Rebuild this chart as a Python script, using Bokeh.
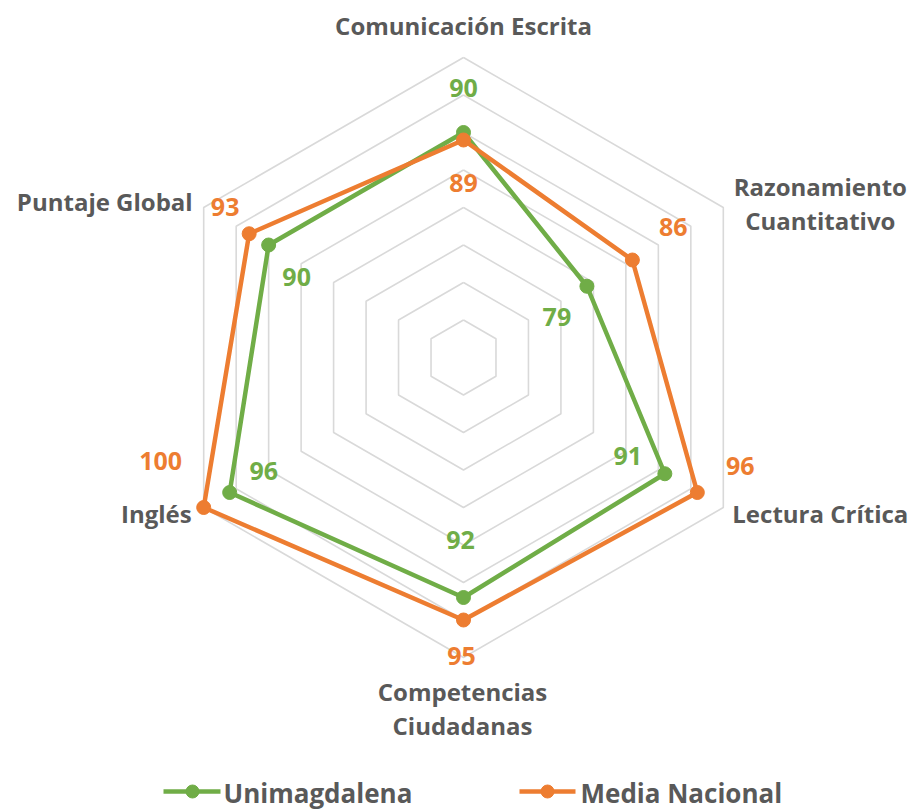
import numpy as np
from bokeh.plotting import figure
from bokeh.models import Range1d
from bokeh.core.properties import value
from bokeh.embed import file_html
from bokeh.resources import INLINE

# ---------------- data ----------------
categories = ["Comunicación Escrita", "Razonamiento\nCuantitativo", "Lectura Crítica",
              "Competencias\nCiudadanas", "Inglés", "Puntaje Global"]
unimagdalena = [90, 79, 91, 92, 96, 90]
media_nacional = [89, 86, 96, 95, 100, 93]
series_names = ["Unimagdalena", "Media Nacional"]
scale_min, scale_max, scale_step = 60, 100, 5

# ---------------- style ----------------
GREEN = "#70AD47"
ORANGE = "#ED7D31"
LABEL = "#595959"
GRID = "#D9D9D9"
FONT = value("Open Sans")
R = 300  # pixel radius of the outer ring

W, H = 915, 812
CX, CY = 463, 357  # center inside the frame (px from left / top)

p = figure(width=W, height=H, output_backend="svg", toolbar_location=None,
           x_range=Range1d(-CX, W - CX), y_range=Range1d(-(H - CY), CY),
           min_border=0, background_fill_color="white", border_fill_color="white")
p.axis.visible = False
p.grid.visible = False
p.outline_line_color = None

angles = np.deg2rad(90 - 60 * np.arange(len(categories)))


def polar(vals):
    r = (np.asarray(vals, float) - scale_min) / (scale_max - scale_min) * R
    return r * np.cos(angles), r * np.sin(angles)


# grid rings
for lvl in range(scale_min + scale_step, scale_max + 1, scale_step):
    gx, gy = polar([lvl] * len(categories))
    p.line(list(gx) + [gx[0]], list(gy) + [gy[0]], line_color=GRID, line_width=1.6)

# series
series = [(unimagdalena, GREEN), (media_nacional, ORANGE)]
for vals, col in series:
    sx, sy = polar(vals)
    p.line(list(sx) + [sx[0]], list(sy) + [sy[0]], line_color=col, line_width=4.5)
    p.scatter(sx, sy, size=14, fill_color=col, line_color=col)

# value labels (pixel offsets, screen dx, dy-down)
val_offsets = [
    [(0, -45), (-30, 31), (-37, -18), (-3, -58), (34, -22), (28, 32)],
    [(0, 43), (41, -33), (43, -27), (-2, 36), (-43, -47), (-24, -27)],
]
for (vals, col), offs in zip(series, val_offsets):
    sx, sy = polar(vals)
    tx = [x + o[0] for x, o in zip(sx, offs)]
    ty = [y - o[1] for y, o in zip(sy, offs)]
    p.text(tx, ty, text=[str(v) for v in vals], text_color=col, text_font=FONT,
           text_font_style="bold", text_font_size="25px",
           text_align="center", text_baseline="middle")

# category labels
ox, oy = polar([scale_max] * len(categories))
cat_offsets = [
    ((0, -32), "center"),
    ((97, -21), "center"),
    ((97, 6), "center"),
    ((-1, 34), "center"),
    ((-12, 6), "right"),
    ((-11, -6), "right"),
]
line_gap = 34
for i, cat in enumerate(categories):
    (dx, dy), align = cat_offsets[i]
    for j, ln in enumerate(cat.split("\n")):
        p.text([ox[i] + dx], [oy[i] - dy - j * line_gap], text=[ln], text_color=LABEL,
               text_font=FONT, text_font_style="bold", text_font_size="24px",
               text_align=align, text_baseline="middle")

# legend (manual, screen positions relative to the chart center)
leg_y = -434
leg_items = [(-300, -243, -271, -240), (56, 112, 84, 117)]  # line x0, x1, marker x, text x
for (name, (vals, col)), (x0, x1, mx, tx) in zip(zip(series_names, series), leg_items):
    p.line([x0, x1], [leg_y, leg_y], line_color=col, line_width=4.5)
    p.scatter([mx], [leg_y], size=13, fill_color=col, line_color=col)
    p.text([tx], [leg_y - 1], text=[name], text_color=LABEL, text_font=FONT,
           text_font_style="bold", text_font_size="26px",
           text_align="left", text_baseline="middle")

open("out.html", "w").write(file_html(p, INLINE))
